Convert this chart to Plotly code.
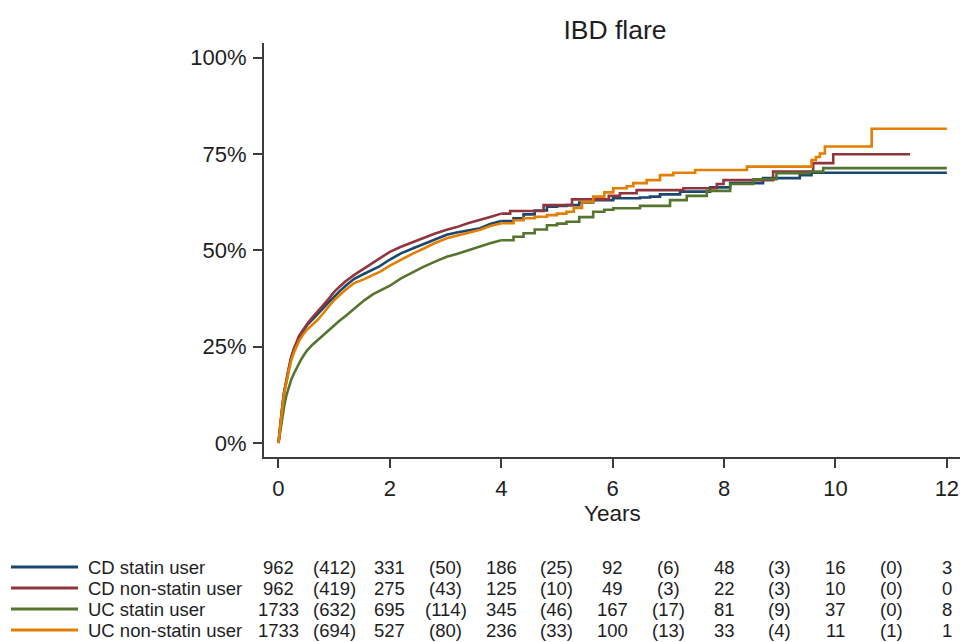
import plotly.graph_objects as go

# ---------------- data ----------------
series_names = ["CD statin user", "CD non-statin user", "UC statin user", "UC non-statin user"]
series_colors = ["#1a476f", "#90353b", "#55752f", "#e37e00"]

cd_statin_t = [0, 0.04, 0.07, 0.10, 0.14, 0.19, 0.23, 0.28, 0.37, 0.45, 0.52, 0.61, 0.70, 0.80, 0.90,
               1.00, 1.10, 1.20, 1.36, 1.54, 1.70, 1.82, 2.00, 2.20, 2.42, 2.60, 2.80, 3.02, 3.20, 3.40,
               3.62, 3.80, 4.00, 4.22, 4.40, 4.60, 4.82, 5.00, 5.17, 5.40, 5.65, 6.01, 6.49, 6.67, 6.85,
               7.21, 7.75, 8.11, 8.70, 9.36, 9.57, 12.0]
cd_statin_v = [0, 6.1, 9.5, 13.0, 16.4, 19.5, 22.1, 24.3, 27.4, 29.3, 30.7, 32.0, 33.3, 34.9, 36.5,
               38.0, 39.4, 40.7, 42.6, 43.9, 45.0, 45.9, 47.6, 49.2, 50.5, 51.6, 52.8, 54.0, 54.6, 55.2,
               55.7, 56.8, 57.6, 58.3, 59.3, 60.3, 61.3, 61.5, 61.7, 62.4, 63.0, 63.5, 63.7, 63.9, 64.5,
               65.2, 66.3, 67.4, 68.7, 69.5, 70.1, 70.1]

cd_non_t = [0, 0.04, 0.07, 0.10, 0.14, 0.19, 0.23, 0.28, 0.37, 0.45, 0.52, 0.61, 0.70, 0.80, 0.90,
            1.00, 1.10, 1.20, 1.36, 1.54, 1.70, 1.82, 2.00, 2.20, 2.42, 2.60, 2.80, 3.02, 3.20, 3.40,
            3.62, 3.80, 4.00, 4.16, 4.76, 5.27, 5.93, 6.13, 6.43, 7.27, 7.87, 7.99, 8.88, 9.60, 9.96, 11.34]
cd_non_v = [0, 6.2, 9.6, 13.2, 16.6, 19.8, 22.4, 24.6, 27.8, 29.6, 31.0, 32.6, 34.0, 35.7, 37.4,
            39.2, 40.6, 41.9, 43.6, 45.3, 46.8, 47.9, 49.6, 50.9, 52.2, 53.2, 54.3, 55.3, 56.0, 57.0,
            57.8, 58.6, 59.5, 60.2, 61.7, 63.2, 64.1, 64.8, 65.6, 66.1, 67.2, 68.2, 70.4, 72.6, 74.9, 74.9]

uc_statin_t = [0, 0.04, 0.07, 0.10, 0.14, 0.19, 0.23, 0.28, 0.34, 0.40, 0.46, 0.52, 0.61, 0.70, 0.80,
               0.90, 1.00, 1.10, 1.20, 1.36, 1.54, 1.70, 1.82, 2.00, 2.20, 2.42, 2.60, 2.80, 3.02, 3.20,
               3.40, 3.62, 3.80, 4.00, 4.22, 4.40, 4.60, 4.82, 5.00, 5.17, 5.40, 5.65, 5.85, 6.01, 6.49,
               6.73, 7.03, 7.33, 7.69, 8.11, 8.52, 8.94, 9.54, 9.78, 12.0]
uc_statin_v = [0, 4.0, 6.8, 9.4, 12.2, 14.6, 16.5, 18.1, 19.9, 21.5, 22.9, 24.1, 25.5, 26.7, 28.0,
               29.3, 30.6, 31.8, 32.9, 34.9, 37.0, 38.6, 39.5, 40.8, 42.7, 44.4, 45.7, 47.0, 48.3, 49.0,
               50.0, 50.9, 51.8, 52.6, 53.5, 54.4, 55.4, 56.5, 56.9, 57.4, 58.6, 60.0, 60.5, 60.9, 61.5,
               61.5, 63.0, 64.1, 65.4, 67.2, 68.4, 70.0, 70.4, 71.3, 71.3]

uc_non_t = [0, 0.04, 0.07, 0.10, 0.14, 0.19, 0.23, 0.28, 0.37, 0.45, 0.52, 0.61, 0.70, 0.80, 0.90,
            1.00, 1.10, 1.20, 1.36, 1.54, 1.70, 1.82, 2.00, 2.20, 2.42, 2.60, 2.80, 3.02, 3.20, 3.40,
            3.62, 3.80, 4.00, 4.22, 4.40, 4.60, 4.82, 5.00, 5.17, 5.30, 5.45, 5.65, 5.85, 6.01, 6.25,
            6.37, 6.61, 6.85, 7.09, 7.48, 8.41, 9.57, 9.65, 9.72, 9.81, 10.65, 12.0]
uc_non_v = [0, 6.0, 9.3, 12.7, 16.0, 19.0, 21.5, 23.6, 26.5, 28.3, 29.5, 30.7, 31.9, 33.6, 35.4,
            37.1, 38.4, 39.7, 41.5, 42.5, 43.6, 44.4, 46.0, 47.6, 49.2, 50.4, 51.8, 53.1, 53.8, 54.6,
            55.3, 56.3, 57.0, 57.8, 58.3, 58.7, 59.1, 59.5, 60.0, 61.0, 62.5, 63.9, 65.0, 66.1, 66.6,
            67.4, 68.2, 69.5, 70.1, 70.8, 71.7, 73.4, 74.2, 75.1, 76.9, 81.5, 81.5]

# number-at-risk table (at even years) and events (in parentheses, between)
risk_years = [0, 2, 4, 6, 8, 10, 12]
event_years = [1, 3, 5, 7, 9, 11]
cd_statin_risk = [962, 331, 186, 92, 48, 16, 3]
cd_statin_events = [412, 50, 25, 6, 3, 0]
cd_non_risk = [962, 275, 125, 49, 22, 10, 0]
cd_non_events = [419, 43, 10, 3, 3, 0]
uc_statin_risk = [1733, 695, 345, 167, 81, 37, 8]
uc_statin_events = [632, 114, 46, 17, 9, 0]
uc_non_risk = [1733, 527, 236, 100, 33, 11, 1]
uc_non_events = [694, 80, 33, 13, 4, 1]

y_ticks = [0, 25, 50, 75, 100]
y_tick_labels = ["0%", "25%", "50%", "75%", "100%"]
x_ticks = [0, 2, 4, 6, 8, 10, 12]

# ---------------- layout helpers ----------------
W, H = 960, 642
L, R, T, B = 264, 0, 43, 185
PW, PH = W - L - R, H - T - B
FONT = "Liberation Sans, Arial, sans-serif"
TXT = "#1e1e1e"
AX = "#3c3c3c"
SMOOTH_UNTIL = 4.0   # dense early part drawn as a smooth line, later part as steps


def pxx(px):
    return (px - L) / PW


def pxy(py):
    return (H - B - py) / PH


curves = [(cd_statin_t, cd_statin_v), (cd_non_t, cd_non_v), (uc_statin_t, uc_statin_v), (uc_non_t, uc_non_v)]
tables = [(cd_statin_risk, cd_statin_events), (cd_non_risk, cd_non_events),
          (uc_statin_risk, uc_statin_events), (uc_non_risk, uc_non_events)]

fig = go.Figure()
for name, col, (t, v) in zip(series_names, series_colors, curves):
    early = [i for i, tt in enumerate(t) if tt <= SMOOTH_UNTIL]
    late = [i for i, tt in enumerate(t) if tt >= SMOOTH_UNTIL]
    fig.add_trace(go.Scatter(x=[t[i] for i in early], y=[v[i] for i in early], mode="lines", name=name,
                             line=dict(color=col, width=2.6, shape="linear"), showlegend=False,
                             hoverinfo="skip"))
    fig.add_trace(go.Scatter(x=[t[i] for i in late], y=[v[i] for i in late], mode="lines", name=name,
                             line=dict(color=col, width=2.6, shape="hv"), showlegend=False,
                             hoverinfo="skip"))

row_py = [567, 588, 609, 630]
annotations = []
shapes = []
TS = 18.5
for i, (name, col, (risk, ev)) in enumerate(zip(series_names, series_colors, tables)):
    yp = pxy(row_py[i])
    shapes.append(dict(type="line", xref="paper", yref="paper", x0=pxx(11), x1=pxx(78), y0=yp, y1=yp,
                       line=dict(color=col, width=3)))
    annotations.append(dict(xref="paper", yref="paper", x=pxx(86), y=yp, text=name, showarrow=False,
                            xanchor="left", yanchor="middle", font=dict(size=TS, color=TXT, family=FONT)))
    for yr, n in zip(risk_years, risk):
        annotations.append(dict(xref="x", yref="paper", x=yr, y=yp, text=str(n), showarrow=False,
                                xanchor="center", yanchor="middle", font=dict(size=TS, color=TXT, family=FONT)))
    for yr, n in zip(event_years, ev):
        annotations.append(dict(xref="x", yref="paper", x=yr, y=yp, text="(%d)" % n, showarrow=False,
                                xanchor="center", yanchor="middle", font=dict(size=TS, color=TXT, family=FONT)))

annotations.append(dict(xref="x", yref="paper", x=6, y=pxy(513), text="Years", showarrow=False,
                        xanchor="center", yanchor="middle", font=dict(size=22.5, color=TXT, family=FONT)))

fig.update_layout(
    width=W, height=H,
    margin=dict(l=L, r=R, t=T, b=B, pad=0),
    paper_bgcolor="white", plot_bgcolor="white",
    title=dict(text="IBD flare", x=615 / W, y=1 - 30 / H, xref="container", yref="container",
               xanchor="center", yanchor="middle", font=dict(size=26.5, color=TXT, family=FONT)),
    font=dict(family=FONT, color=TXT),
    annotations=annotations,
    shapes=shapes,
    showlegend=False,
    hovermode=False,
)
fig.update_xaxes(range=[-0.26, 12.236], tickvals=x_ticks, showgrid=False, zeroline=False,
                 showline=True, linecolor=AX, linewidth=2, ticks="outside", ticklen=9, tickwidth=2,
                 tickcolor=AX, ticklabelstandoff=2, tickfont=dict(size=22, color=TXT, family=FONT))
fig.update_yaxes(range=[-3.63, 103.76], tickvals=y_ticks, ticktext=y_tick_labels, showgrid=False,
                 zeroline=False, showline=True, linecolor=AX, linewidth=2, ticks="outside", ticklen=9,
                 tickwidth=2, tickcolor=AX, ticklabelstandoff=2, tickfont=dict(size=22, color=TXT, family=FONT))

fig.write_html("out.html", config={"displayModeBar": False},
               post_script="document.body.style.margin='0';document.body.style.overflow='hidden';")
